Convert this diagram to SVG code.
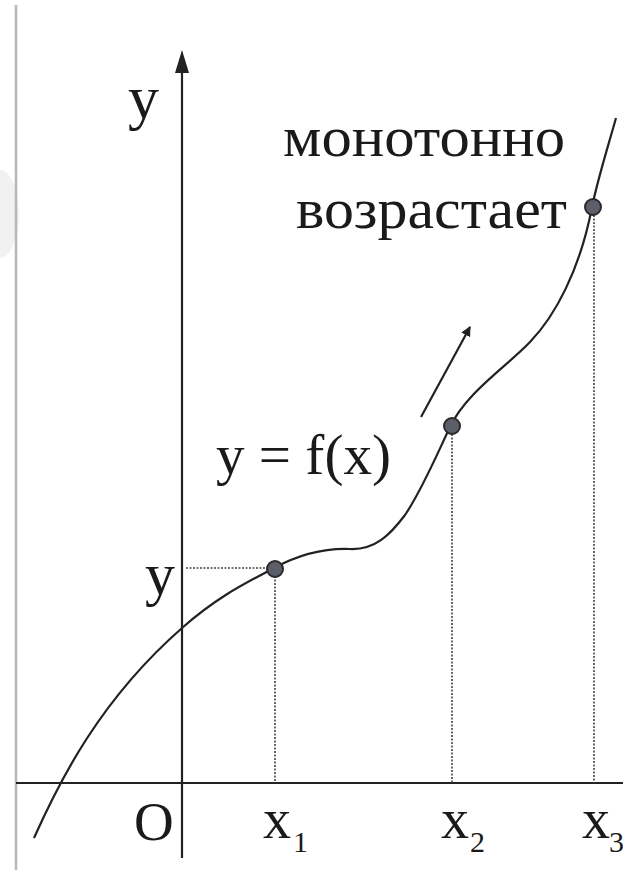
<svg xmlns="http://www.w3.org/2000/svg" width="623" height="870" viewBox="0 0 623 870">
<style>
.t{font-family:"Liberation Serif","Times New Roman",serif;fill:#1a1a1a}
.ax{stroke:#222;stroke-width:2.2;fill:none}
.dot{stroke:#444;stroke-width:1.6;stroke-dasharray:2 1.5;fill:none}
.pt{fill:#5c5e6a;stroke:#2a2a2a;stroke-width:2}
</style>
<defs>
<marker id="ah" markerWidth="10" markerHeight="10" refX="9" refY="5" orient="auto" markerUnits="userSpaceOnUse" viewBox="0 0 10 10">
<path d="M0,0 L10,5 L0,10 z" fill="#222"/>
</marker>
</defs>
<rect width="623" height="870" fill="#fff"/>
<path d="M0,170 A19,44 0 0 1 0,258 z" fill="#f1f1f1"/>
<line x1="16" y1="5" x2="16" y2="870" stroke="#b4b8b8" stroke-width="2.5"/>
<g id="axes">
<line class="ax" x1="16" y1="783" x2="623" y2="783" stroke-width="2.6"/>
<line class="ax" x1="182" y1="68" x2="182" y2="858"/>
<path d="M182,50 L189,73 L175,73 z" fill="#222"/>
</g>
<g id="connectors">
<line class="dot" x1="186" y1="568" x2="268" y2="568"/>
<line class="dot" x1="275" y1="576" x2="275" y2="783"/>
<line class="dot" x1="452" y1="434" x2="452" y2="783"/>
<line class="dot" x1="594" y1="215" x2="594" y2="783"/>
<path class="ax" d="M34,838 C60,780 100,700 182,628 C217,597 244,584 274,568 C300,554 325,548 350,549 C375,550 390,535 405,515 C422,490 438,452 450,427 C466,393 505,368 530,342 C555,316 580,270 592,207 C598,178 607,150 616,118"/>
<line x1="421" y1="417" x2="470" y2="327" stroke="#222" stroke-width="2.2" marker-end="url(#ah)"/>
</g>
<g id="p1"><circle class="pt" cx="275" cy="569" r="8"/></g>
<g id="p2"><circle class="pt" cx="452" cy="426" r="8"/></g>
<g id="p3"><circle class="pt" cx="593" cy="207" r="8"/></g>
<g id="labels">
<text class="t" x="128" y="118" font-size="62">y</text>
<text class="t" x="283" y="156" font-size="58" textLength="282" lengthAdjust="spacingAndGlyphs">монотонно</text>
<text class="t" x="296" y="228" font-size="58" textLength="271" lengthAdjust="spacingAndGlyphs">возрастает</text>
<text class="t" x="216" y="474" font-size="57" textLength="175" lengthAdjust="spacingAndGlyphs">y = f(x)</text>
<text class="t" x="145" y="594" font-size="60">y</text>
<text class="t" x="134" y="840" font-size="55">O</text>
<text class="t" x="263" y="838" font-size="56">x</text>
<text class="t" x="293" y="852" font-size="30">1</text>
<text class="t" x="441" y="838" font-size="56">x</text>
<text class="t" x="470" y="852" font-size="30">2</text>
<text class="t" x="582" y="838" font-size="56">x</text>
<text class="t" x="609" y="852" font-size="30">3</text>
</g>
</svg>
